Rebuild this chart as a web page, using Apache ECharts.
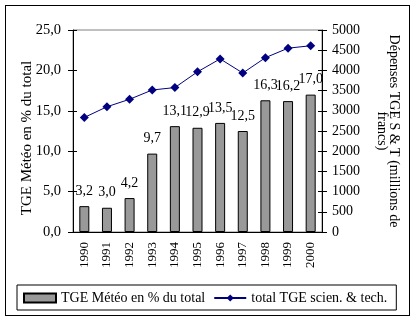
<!DOCTYPE html>
<html><head><meta charset="utf-8">
<script src="https://cdn.jsdelivr.net/npm/echarts@6/dist/echarts.min.js"></script>
<style>html,body{margin:0;padding:0;background:#fff}#c{width:416px;height:321px}
#frame{position:absolute;left:5px;top:5px;width:403px;height:309px;border:1px solid #000;pointer-events:none}</style>
</head><body><div id="c"></div><div id="frame"></div>
<script>
const years = ['1990','1991','1992','1993','1994','1995','1996','1997','1998','1999','2000'];
const meteoPct = [3.2, 3.0, 4.2, 9.7, 13.1, 12.9, 13.5, 12.5, 16.3, 16.2, 17.0];
const totalTGE = [2835, 3100, 3285, 3515, 3575, 3965, 4285, 3935, 4315, 4550, 4610];
const leftTicks = {min: 0, max: 25, interval: 5};
const rightTicks = {min: 0, max: 5000, interval: 500};
const seriesNames = ['TGE Météo en % du total', 'total TGE scien. & tech.'];

const F = 'Liberation Serif, Times New Roman, serif';
const fmt1 = v => v.toFixed(1).replace('.', ',');
const chart = echarts.init(document.getElementById('c'));
chart.setOption({
  animation: false,
  grid: {left: 73, right: 94, top: 30, bottom: 89, show: true, borderColor: '#808080', borderWidth: 1},
  legend: {
    left: 17, top: 285, borderColor: '#000', borderWidth: 1, padding: [6, 9, 5, 6],
    itemWidth: 32, itemHeight: 9, itemGap: 8,
    textStyle: {fontFamily: F, fontSize: 14, color: '#000'},
    data: [{name: seriesNames[0], icon: 'rect'}, {name: seriesNames[1]}]
  },
  xAxis: [{
    type: 'category', data: years, boundaryGap: true,
    axisLine: {lineStyle: {color: '#000'}},
    axisTick: {alignWithLabel: false, length: 4, lineStyle: {color: '#000'}},
    axisLabel: {rotate: 90, margin: 10, fontFamily: F, fontSize: 13, color: '#000'}
  }, {
    type: 'category', data: years, position: 'bottom', boundaryGap: true,
    axisLine: {show: false}, axisTick: {inside: true, length: 3, lineStyle: {color: '#000'}},
    axisLabel: {show: false}
  }],
  yAxis: [{
    type: 'value', position: 'left', min: leftTicks.min, max: leftTicks.max, interval: leftTicks.interval,
    name: 'TGE Météo en % du total', nameLocation: 'middle', nameGap: 38, nameRotate: 90,
    nameMoveOverlap: false,
    nameTextStyle: {fontFamily: F, fontSize: 15, color: '#000', padding: [0, 14, 0, 0]},
    axisLine: {show: true, lineStyle: {color: '#000'}},
    axisTick: {show: true, length: 5, lineStyle: {color: '#000'}},
    splitLine: {show: false},
    axisLabel: {formatter: fmt1, margin: 12, fontFamily: F, fontSize: 14.5, color: '#000'}
  }, {
    type: 'value', position: 'right', min: rightTicks.min, max: rightTicks.max, interval: rightTicks.interval,
    name: 'Dépenses TGE S & T (millions de\nfrancs)', nameLocation: 'middle', nameGap: 54, nameRotate: -90,
    nameTextStyle: {fontFamily: F, fontSize: 14, color: '#000', lineHeight: 12},
    axisLine: {show: true, lineStyle: {color: '#000'}},
    axisTick: {show: true, length: 5, lineStyle: {color: '#000'}},
    splitLine: {show: false},
    axisLabel: {margin: 10, formatter: v => String(v), fontFamily: F, fontSize: 14, color: '#000'}
  }, {
    type: 'value', position: 'left', min: leftTicks.min, max: leftTicks.max, interval: leftTicks.interval,
    axisLine: {show: false}, axisTick: {show: true, inside: true, length: 4, lineStyle: {color: '#000'}},
    axisLabel: {show: false}, splitLine: {show: false}
  }, {
    type: 'value', position: 'right', min: rightTicks.min, max: rightTicks.max, interval: rightTicks.interval,
    axisLine: {show: false}, axisTick: {show: true, inside: true, length: 4, lineStyle: {color: '#000'}},
    axisLabel: {show: false}, splitLine: {show: false}
  }],
  series: [{
    name: seriesNames[0], type: 'bar', data: meteoPct, yAxisIndex: 0, barWidth: 10,
    itemStyle: {color: '#999999', borderColor: '#000', borderWidth: 1},
    label: {show: true, position: 'top', distance: 8, formatter: p => fmt1(p.value),
      fontFamily: F, fontSize: 14, color: '#000'}
  }, {
    name: seriesNames[1], type: 'line', data: totalTGE, yAxisIndex: 1,
    symbol: 'diamond', symbolSize: 9,
    lineStyle: {color: '#000080', width: 1}, itemStyle: {color: '#000080'}
  }]
});
</script></body></html>
